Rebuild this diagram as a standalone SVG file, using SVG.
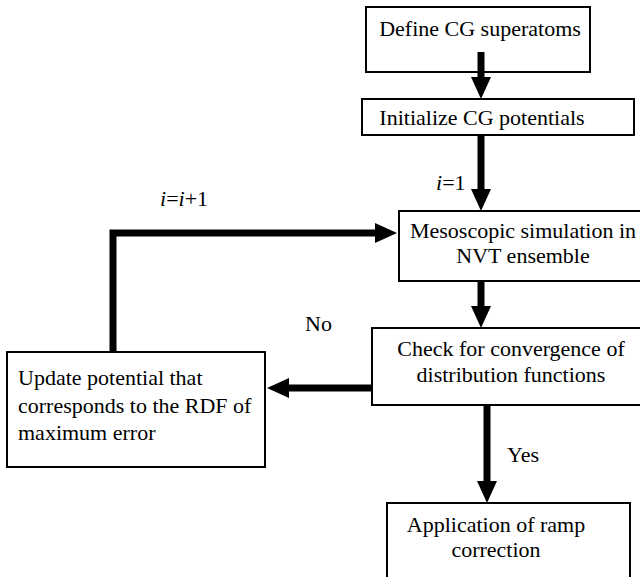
<svg xmlns="http://www.w3.org/2000/svg" width="640" height="577" viewBox="0 0 640 577">
<style>
.box{fill:#fff;stroke:#000;stroke-width:2}
.t{font-family:"Liberation Serif","Times New Roman",serif;font-size:22px;fill:#000}
.c{text-anchor:middle}
.conn{fill:none;stroke:#000;stroke-width:7;marker-end:url(#ah)}
</style>
<defs>
<marker id="ah" markerUnits="userSpaceOnUse" markerWidth="22" markerHeight="20" refX="0" refY="10" orient="auto" overflow="visible">
<path d="M0,0 L22,10 L0,20 Z" fill="#000"/>
</marker>
</defs>
<rect width="640" height="577" fill="#fff"/>
<g id="n1"><rect class="box" x="366" y="7" width="224" height="65"/><text class="t c" x="480" y="36">Define CG superatoms</text></g>
<g id="n2"><rect class="box" x="362" y="99" width="272" height="36"/><text class="t c" x="482" y="125">Initialize CG potentials</text></g>
<g id="n3"><rect class="box" x="399" y="211" width="246" height="70"/><text class="t c" x="523" y="238">Mesoscopic simulation in</text><text class="t c" x="523" y="263">NVT ensemble</text></g>
<g id="n4"><rect class="box" x="372" y="328" width="273" height="77"/><text class="t c" x="511" y="356">Check for convergence of</text><text class="t c" x="511" y="382">distribution functions</text></g>
<g id="n5"><rect class="box" x="7" y="352" width="258" height="115"/><text class="t" x="18" y="385">Update potential that</text><text class="t" x="18" y="413">corresponds to the RDF of</text><text class="t" x="18" y="440">maximum error</text></g>
<g id="n6"><rect class="box" x="387" y="503" width="243" height="80"/><text class="t c" x="496" y="532">Application of ramp</text><text class="t c" x="496" y="557">correction</text></g>
<g id="connectors">
<path class="conn" d="M481,52 V77"/>
<path class="conn" d="M481,135 V189"/>
<path class="conn" d="M113,352 V233 H375"/>
<path class="conn" d="M481,281 V306"/>
<path class="conn" d="M372,388 H289"/>
<path class="conn" d="M487,405 V481"/>
</g>
<g id="labels">
<text class="t" x="436" y="190"><tspan font-style="italic">i</tspan>=1</text>
<text class="t" x="160" y="206"><tspan font-style="italic">i</tspan>=<tspan font-style="italic">i</tspan>+1</text>
<text class="t" x="305" y="331">No</text>
<text class="t" x="507" y="462">Yes</text>
</g>
</svg>
